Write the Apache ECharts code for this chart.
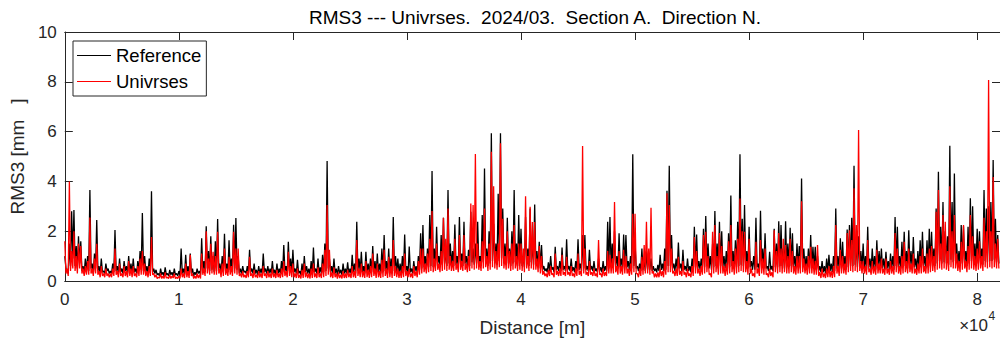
<!DOCTYPE html>
<html><head><meta charset="utf-8">
<script src="https://cdn.jsdelivr.net/npm/echarts@6/dist/echarts.min.js"></script>
<style>html,body{margin:0;padding:0;background:#fff}#c{width:1000px;height:342px}</style>
</head><body><div id="c"></div>
<script>
// ---- data ----
const STEP_M = 100; // sampling distance of the values below, metres
const seriesNames = ['Reference', 'Univrses'];
const referenceRMS3 = [
 1.0,0.5,0.4,0.3,1.5,0.6,2.8,0.9,2.85,0.6,1.4,0.5,1.8,0.7,1.6,0.4,0.6,0.3,0.9,0.4,
 1.0,0.4,3.65,0.5,0.7,0.3,1.1,0.5,2.45,0.4,0.6,0.3,0.9,0.35,0.4,0.3,0.7,0.4,0.5,0.3,
 0.4,0.3,0.7,0.35,2.05,0.4,0.6,0.3,0.9,0.35,0.5,0.3,0.8,0.4,0.6,0.3,1.0,0.35,0.7,0.3,
 0.9,0.35,0.5,0.3,0.8,0.4,1.2,0.45,2.73,0.4,1.0,0.35,0.6,0.3,0.9,0.4,3.6,0.35,0.5,0.3,
 0.45,0.25,0.3,0.2,0.5,0.25,0.35,0.2,0.55,0.25,0.3,0.2,0.45,0.25,0.35,0.2,0.5,0.25,0.3,0.2,
 0.4,0.25,1.3,0.3,0.5,0.25,1.05,0.3,0.6,0.25,1.1,0.3,0.5,0.2,0.35,0.25,0.5,0.3,0.4,0.25,
 1.72,0.4,0.8,0.35,2.2,0.5,1.2,0.4,1.8,0.45,1.0,0.35,1.6,0.4,2.49,0.5,0.7,0.3,1.0,0.35,
 1.9,0.4,0.7,0.35,1.64,0.45,0.9,0.35,2.26,0.5,2.53,0.45,1.0,0.3,0.5,0.3,0.6,0.35,0.4,0.3,
 0.6,0.3,1.25,0.35,0.5,0.3,0.7,0.3,0.45,0.25,0.6,0.3,0.5,0.3,1.1,0.35,0.5,0.3,0.6,0.3,
 0.5,0.3,0.8,0.3,0.45,0.25,0.7,0.3,0.5,0.3,0.8,0.35,1.44,0.4,0.6,0.3,1.58,0.4,0.9,0.35,
 1.25,0.35,0.5,0.3,0.85,0.3,0.4,0.25,0.7,0.3,1.0,0.35,0.6,0.3,0.5,0.25,0.8,0.3,1.34,0.35,
 0.5,0.3,0.9,0.3,0.55,0.3,1.05,0.35,1.5,0.4,4.82,0.5,0.9,0.35,0.6,0.3,0.9,0.3,0.5,0.25,
 0.6,0.3,0.45,0.25,0.7,0.3,0.5,0.3,0.75,0.3,0.5,0.3,1.05,0.35,0.7,0.3,2.38,0.4,0.9,0.35,
 1.17,0.35,0.6,0.3,1.17,0.35,0.7,0.3,0.9,0.35,1.4,0.4,0.8,0.3,1.1,0.35,0.7,0.3,1.3,0.35,
 1.85,0.4,0.8,0.3,1.3,0.35,0.9,0.3,2.57,0.4,1.0,0.35,0.9,0.3,0.7,0.3,1.0,0.35,1.87,0.4,
 0.6,0.3,1.38,0.35,0.5,0.3,0.8,0.4,0.6,0.35,1.0,0.45,1.92,0.5,2.25,0.55,1.0,0.5,1.3,0.55,
 2.65,0.6,4.42,0.55,1.3,0.6,2.18,0.7,1.0,0.55,1.85,0.65,2.54,0.7,1.2,0.6,3.65,0.7,1.5,0.6,
 1.2,0.6,2.27,0.65,1.0,0.55,2.57,0.7,1.1,0.6,2.38,0.7,1.0,0.55,1.25,0.6,2.78,0.75,1.3,0.65,
 1.5,0.7,2.38,0.65,1.0,0.6,2.65,0.75,4.52,0.8,1.3,0.6,2.0,0.7,5.93,0.8,2.3,0.7,1.5,0.65,
 3.5,0.8,5.93,0.9,2.91,0.7,1.5,0.65,2.54,0.7,1.3,0.6,2.0,0.7,3.65,0.75,1.5,0.6,2.65,0.7,
 2.1,0.6,1.0,0.55,2.57,0.7,1.3,0.6,2.91,0.75,1.5,0.65,3.07,0.7,1.2,0.55,1.58,0.5,1.44,0.45,
 0.6,0.4,0.5,0.35,0.75,0.4,1.0,0.45,0.55,0.35,1.37,0.45,0.6,0.4,0.8,0.4,1.34,0.45,0.6,0.4,
 1.68,0.45,0.6,0.4,0.9,0.4,0.55,0.35,0.8,0.4,1.68,0.45,0.7,0.4,1.85,0.5,1.85,0.45,0.6,0.4,
 1.25,0.45,0.6,0.4,0.8,0.4,0.5,0.35,0.9,0.4,0.55,0.35,0.8,0.4,0.6,0.4,2.38,0.5,2.57,0.55,
 1.5,0.55,2.0,0.6,1.0,0.5,1.92,0.55,0.9,0.5,1.87,0.6,1.85,0.55,0.8,0.45,1.0,0.5,5.09,0.6,
 1.5,0.5,0.6,0.4,0.7,0.4,1.3,0.45,0.8,0.4,1.2,0.45,1.1,0.45,0.9,0.4,0.6,0.4,0.5,0.35,
 0.65,0.4,1.05,0.45,0.7,0.4,1.3,0.45,3.62,0.6,4.63,0.6,1.85,0.5,0.7,0.4,0.9,0.45,1.55,0.5,
 0.7,0.4,1.25,0.45,0.6,0.4,0.9,0.4,0.6,0.35,0.9,0.45,2.18,0.55,1.87,0.5,0.8,0.45,0.9,0.5,
 2.1,0.55,2.61,0.6,1.5,0.5,1.0,0.45,1.5,0.55,2.81,0.6,1.5,0.5,2.38,0.6,2.0,0.55,1.0,0.5,
 1.2,0.5,1.92,0.55,3.43,0.6,1.2,0.5,1.64,0.55,2.38,0.6,5.09,0.65,2.5,0.6,3.05,0.6,1.2,0.5,
 2.18,0.55,0.8,0.45,1.0,0.45,2.54,0.55,0.7,0.4,2.82,0.55,1.3,0.5,1.92,0.5,0.6,0.4,1.17,0.45,
 0.6,0.4,2.1,0.55,1.5,0.55,2.4,0.6,2.25,0.6,1.3,0.5,2.4,0.6,1.5,0.55,2.14,0.6,1.92,0.55,
 1.0,0.5,1.5,0.55,1.4,0.5,4.12,0.6,1.3,0.5,1.0,0.45,1.3,0.5,1.85,0.55,1.37,0.5,1.37,0.45,
 1.0,0.4,0.6,0.35,0.8,0.35,0.6,0.3,0.9,0.35,1.05,0.4,0.7,0.35,1.0,0.4,2.91,0.5,1.0,0.45,
 1.72,0.5,1.58,0.5,1.0,0.45,2.07,0.55,2.25,0.6,2.54,0.6,4.63,0.65,1.5,0.55,1.8,0.6,1.2,0.5,
 1.5,0.5,1.0,0.45,2.18,0.55,0.9,0.45,1.3,0.5,1.0,0.45,1.64,0.55,1.2,0.5,1.3,0.5,0.9,0.45,
 1.17,0.5,0.8,0.45,1.1,0.5,1.0,0.45,2.57,0.6,2.18,0.55,1.0,0.5,1.58,0.55,1.98,0.6,1.2,0.5,
 2.04,0.6,1.2,0.5,1.77,0.55,0.9,0.45,1.2,0.5,1.64,0.55,1.98,0.6,1.0,0.5,1.64,0.55,2.1,0.6,
 1.98,0.65,1.3,0.6,2.91,0.7,4.39,0.8,2.18,0.7,3.17,0.75,2.0,0.7,1.8,0.65,5.43,0.85,3.17,0.75,
 4.32,0.8,1.5,0.65,1.2,0.6,2.25,0.7,2.2,0.7,1.2,0.6,2.18,0.7,3.32,0.8,3.0,0.75,1.5,0.65,
 2.1,0.7,2.0,0.7,1.3,0.65,3.65,0.8,2.91,0.75,3.0,0.8,3.17,0.8,4.86,0.85,2.5,0.75,1.85,0.7
];
const univrsesRMS3 = [
 1.6,0.3,0.5,0.2,4.0,0.4,1.2,0.5,2.0,0.4,1.0,0.3,1.5,0.5,1.4,0.3,0.5,0.2,0.6,0.25,
 0.8,0.25,2.55,0.3,0.5,0.2,0.9,0.3,1.5,0.25,0.4,0.15,0.6,0.2,0.3,0.15,0.5,0.2,0.3,0.15,
 0.3,0.15,0.5,0.2,1.3,0.25,0.4,0.15,0.7,0.2,0.3,0.15,0.6,0.2,0.4,0.15,0.8,0.2,0.5,0.15,
 0.6,0.2,0.3,0.15,0.6,0.2,0.9,0.25,1.2,0.25,0.7,0.2,0.4,0.15,0.6,0.2,1.77,0.25,0.3,0.15,
 0.25,0.1,0.15,0.12,0.3,0.1,0.2,0.1,0.35,0.12,0.15,0.1,0.25,0.1,0.2,0.12,0.3,0.1,0.15,0.1,
 0.2,0.1,0.5,0.15,0.3,0.12,0.7,0.15,0.4,0.12,1.05,0.2,0.3,0.1,0.2,0.1,0.3,0.12,0.25,0.1,
 1.1,0.25,0.5,0.2,2.0,0.3,0.9,0.25,1.5,0.3,1.17,0.25,1.0,0.25,1.98,0.3,0.5,0.15,0.7,0.2,
 1.3,0.25,0.5,0.2,0.97,0.25,0.6,0.2,1.98,0.3,1.3,0.25,1.3,0.2,0.3,0.15,0.4,0.15,0.25,0.12,
 0.4,0.15,0.97,0.2,0.3,0.12,0.45,0.15,0.25,0.12,0.4,0.15,0.3,0.12,0.6,0.2,0.3,0.12,0.4,0.15,
 0.3,0.12,0.5,0.15,0.3,0.12,0.45,0.15,0.3,0.12,0.5,0.15,0.8,0.2,0.4,0.15,1.17,0.2,0.6,0.15,
 0.7,0.15,0.3,0.12,0.5,0.12,0.25,0.1,0.45,0.12,0.7,0.15,0.35,0.12,0.3,0.1,0.5,0.12,0.7,0.15,
 0.3,0.12,0.55,0.15,0.3,0.12,0.7,0.15,1.25,0.2,3.05,0.25,1.25,0.15,0.35,0.12,0.55,0.15,0.3,0.1,
 0.35,0.12,0.25,0.1,0.4,0.12,0.3,0.12,0.45,0.15,0.3,0.12,0.6,0.15,0.4,0.12,1.65,0.2,0.5,0.15,
 0.7,0.15,0.4,0.12,0.8,0.15,0.45,0.12,0.6,0.15,1.1,0.2,0.5,0.12,0.7,0.15,0.4,0.12,0.85,0.15,
 1.25,0.2,0.5,0.12,0.97,0.15,0.6,0.12,1.65,0.2,0.6,0.15,0.5,0.12,0.4,0.12,0.6,0.15,1.1,0.2,
 0.4,0.15,0.5,0.15,0.3,0.12,0.6,0.2,0.4,0.15,0.8,0.25,1.3,0.3,1.3,0.35,0.7,0.3,1.1,0.35,
 1.7,0.4,2.81,0.35,0.9,0.4,1.5,0.45,0.7,0.35,1.2,0.4,2.54,0.45,1.7,0.4,2.91,0.45,1.0,0.4,
 0.8,0.4,1.7,0.45,0.7,0.35,1.85,0.45,0.8,0.4,1.85,0.45,0.7,0.35,1.0,0.4,3.11,0.5,3.05,0.45,
 5.1,0.5,1.5,0.45,0.8,0.4,1.6,0.5,2.91,0.55,1.0,0.4,1.5,0.45,5.19,0.55,3.8,0.5,1.2,0.45,
 1.5,0.55,5.53,0.6,2.5,0.5,1.0,0.45,2.0,0.5,1.2,0.4,1.5,0.45,2.25,0.5,1.0,0.4,1.5,0.45,
 1.5,0.4,1.3,0.35,3.4,0.5,1.0,0.4,2.98,0.5,2.37,0.45,2.37,0.45,0.9,0.35,1.4,0.3,1.0,0.25,
 0.4,0.2,0.3,0.15,0.45,0.2,0.6,0.25,0.3,0.15,1.1,0.25,0.4,0.2,0.5,0.2,1.05,0.25,0.35,0.2,
 0.97,0.25,0.35,0.2,0.6,0.2,0.3,0.15,0.5,0.2,1.1,0.25,0.4,0.2,5.42,0.3,1.3,0.25,0.35,0.2,
 0.8,0.25,0.35,0.2,0.5,0.2,0.3,0.15,1.65,0.25,0.3,0.15,0.5,0.2,0.35,0.2,1.2,0.3,1.05,0.3,
 0.9,0.3,3.17,0.35,0.6,0.25,1.2,0.3,0.6,0.25,1.25,0.3,1.0,0.3,0.5,0.2,0.7,0.25,2.7,0.35,
 2.7,0.3,0.3,0.15,0.5,0.2,0.97,0.25,1.44,0.3,2.38,0.3,1.3,0.25,2.94,0.3,0.4,0.15,0.3,0.15,
 0.35,0.15,0.5,0.2,0.4,0.15,0.8,0.25,3.52,0.35,3.05,0.35,1.3,0.3,0.4,0.2,0.5,0.2,0.97,0.25,
 0.4,0.2,0.8,0.25,0.35,0.15,0.5,0.2,0.3,0.15,0.6,0.2,1.77,0.3,1.2,0.3,0.5,0.2,0.6,0.25,
 1.85,0.3,1.98,0.35,1.0,0.25,0.3,0.15,1.98,0.3,2.25,0.35,1.0,0.25,1.93,0.3,1.4,0.3,0.6,0.2,
 0.7,0.25,1.6,0.3,2.25,0.35,0.8,0.25,1.3,0.3,1.7,0.35,3.31,0.4,2.0,0.35,1.98,0.35,0.8,0.25,
 1.7,0.3,0.5,0.2,0.3,0.15,1.58,0.3,0.5,0.2,1.65,0.3,0.9,0.25,1.3,0.25,0.3,0.15,0.5,0.2,
 0.35,0.15,2.04,0.35,1.2,0.3,1.93,0.35,1.3,0.3,1.7,0.35,1.44,0.3,1.0,0.3,1.7,0.35,1.2,0.3,
 0.6,0.25,1.0,0.3,1.0,0.3,3.2,0.35,0.9,0.3,0.7,0.25,1.0,0.3,1.37,0.3,0.9,0.25,0.8,0.25,
 1.44,0.2,0.35,0.12,0.5,0.15,0.3,0.12,0.5,0.15,0.6,0.15,0.4,0.12,0.6,0.15,2.25,0.3,0.6,0.2,
 1.25,0.3,1.0,0.3,0.7,0.25,1.93,0.35,2.04,0.4,1.65,0.35,3.72,0.4,2.25,0.35,6.06,0.4,0.8,0.3,
 0.8,0.3,0.6,0.25,1.65,0.35,0.5,0.25,0.8,0.3,0.6,0.25,1.25,0.3,0.7,0.3,0.9,0.3,0.5,0.25,
 0.9,0.3,0.5,0.25,0.8,0.3,0.6,0.25,1.93,0.35,1.3,0.3,0.6,0.25,1.0,0.3,1.58,0.35,0.8,0.3,
 1.3,0.35,0.7,0.3,1.1,0.3,0.5,0.25,0.7,0.3,1.0,0.3,1.3,0.35,0.6,0.3,1.1,0.3,1.3,0.35,
 1.4,0.4,1.0,0.35,2.78,0.45,3.65,0.5,1.5,0.45,2.65,0.5,2.38,0.45,1.2,0.4,3.8,0.55,2.0,0.5,
 2.65,0.5,1.1,0.4,0.8,0.35,1.58,0.45,2.25,0.5,0.8,0.35,1.4,0.45,2.65,0.5,1.8,0.45,1.0,0.4,
 1.3,0.45,1.6,0.5,1.0,0.4,2.54,0.55,2.0,0.5,8.07,0.55,2.0,0.5,4.18,0.55,1.5,0.5,1.7,0.5
];
const xTickStep = 10000;      // metres between x ticks (labels shown in units of 10^4)
const yTicks = [0, 2, 4, 6, 8, 10];
const titleText = 'RMS3 --- Univrses.  2024/03.  Section A.  Direction N.';
const xLabel = 'Distance [m]';
const yLabel = 'RMS3 [mm   ]';

// ---- chart ----
const FONT = '"Liberation Sans", Arial, Helvetica, sans-serif';
const AX = '#262626';
const toPairs = arr => arr.map((v, i) => [i * STEP_M, v]);
const chart = echarts.init(document.getElementById('c'), null, {renderer: 'svg'});
const xCommon = {
  type: 'value', min: 0, max: 82000, interval: xTickStep,
  axisLine: {show: true, onZero: false, lineStyle: {color: AX, width: 1}},
  axisTick: {show: true, inside: true, length: 8, lineStyle: {color: AX, width: 1}},
  splitLine: {show: false}
};
const yCommon = {
  type: 'value', min: yTicks[0], max: yTicks[yTicks.length - 1], interval: yTicks[1] - yTicks[0],
  axisLine: {show: true, onZero: false, lineStyle: {color: AX, width: 1}},
  axisTick: {show: true, inside: true, length: 8, lineStyle: {color: AX, width: 1}},
  splitLine: {show: false}
};
chart.setOption({
  animation: false,
  textStyle: {fontFamily: FONT},
  grid: {left: 63, top: 32, width: 938, height: 249, containLabel: false},
  xAxis: [
    Object.assign({}, xCommon, {
      position: 'bottom',
      axisLabel: {show: true, color: AX, fontSize: 17, fontFamily: FONT, margin: 10, showMaxLabel: false,
        formatter: v => (v % xTickStep === 0 ? String(v / xTickStep) : '')},
      name: xLabel, nameLocation: 'middle', nameGap: 37,
      nameTextStyle: {color: AX, fontSize: 19, fontFamily: FONT}
    }),
    Object.assign({}, xCommon, {position: 'top', axisLabel: {show: false}})
  ],
  yAxis: [
    Object.assign({}, yCommon, {
      position: 'left',
      axisLabel: {show: true, color: AX, fontSize: 17, fontFamily: FONT, margin: 8},
      name: yLabel, nameLocation: 'middle', nameGap: 31,
      nameTextStyle: {color: AX, fontSize: 19, fontFamily: FONT}
    }),
    Object.assign({}, yCommon, {position: 'right', axisLabel: {show: false}})
  ],
  legend: {
    data: seriesNames, orient: 'vertical', left: 73, top: 41,
    icon: 'path://M0,0L34,0L34,1L0,1Z',
    padding: [5, 5, 5, 4], itemGap: 7, itemWidth: 34, itemHeight: 1.2,
    backgroundColor: '#fff', borderColor: AX, borderWidth: 1, borderRadius: 0,
    selectedMode: false,
    textStyle: {color: '#000', fontSize: 18.5, fontFamily: FONT, height: 18, lineHeight: 18}
  },
  graphic: [
    {type: 'text', x: 535, y: 17, style: {text: titleText, align: 'center', verticalAlign: 'middle',
      fontSize: 19, fontFamily: FONT, fill: '#000'}},
    {type: 'text', x: 988, y: 325, style: {text: '\u00d710', align: 'right', verticalAlign: 'middle',
      fontSize: 17, fontFamily: FONT, fill: AX}},
    {type: 'text', x: 988.5, y: 316, style: {text: '4', align: 'left', verticalAlign: 'middle',
      fontSize: 12, fontFamily: FONT, fill: AX}}
  ],
  series: [
    {name: seriesNames[0], type: 'line', xAxisIndex: 0, yAxisIndex: 0, symbol: 'none', sampling: null,
      lineStyle: {color: '#000000', width: 1.3}, itemStyle: {color: '#000000'}, data: toPairs(referenceRMS3), z: 2},
    {name: seriesNames[1], type: 'line', xAxisIndex: 0, yAxisIndex: 0, symbol: 'none', sampling: null,
      lineStyle: {color: '#ff0000', width: 1.3}, itemStyle: {color: '#ff0000'}, data: toPairs(univrsesRMS3), z: 3}
  ]
});
</script>
</body></html>
